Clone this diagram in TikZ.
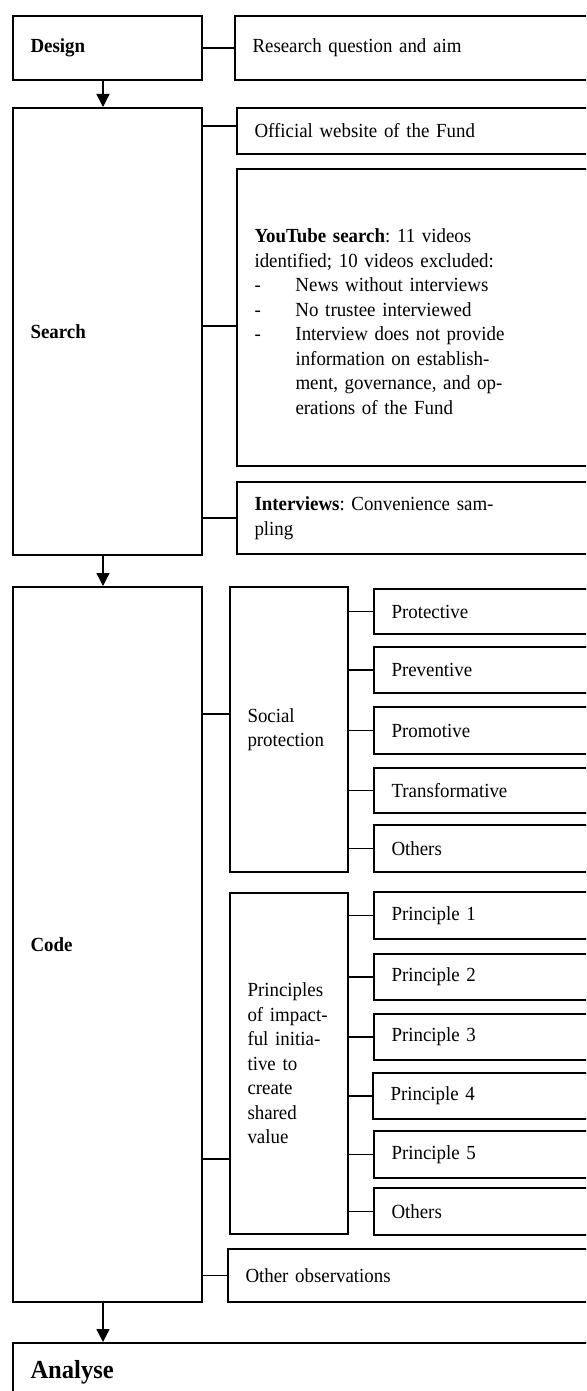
\documentclass[tikz,border=0pt]{standalone}
\usepackage{amsmath,amssymb}
\usepackage{xcolor}
\usepackage{fontspec}
\setmainfont{Liberation Serif}[FakeStretch=0.945,WordSpace=0.88]
\usepackage{tikz}
\usetikzlibrary{arrows.meta}
\frenchspacing

\newcommand{\nodefont}{\fontsize{10pt}{12.25pt}\selectfont}
\newcommand{\dashitem}{\makebox[20.5pt][l]{-}}
\newcommand{\dashgap}{\hspace*{20.5pt}}

\tikzset{
    stage/.style={draw, line width=1pt, anchor=north west, align=left,
        inner xsep=8.75pt, inner ysep=0pt, text width=77pt, font=\nodefont\bfseries},
    item/.style={draw, line width=1pt, anchor=north west, align=left,
        inner xsep=8.75pt, inner ysep=0pt, font=\nodefont},
    link/.style={line width=0.8pt},
    flow/.style={line width=0.7pt, -{Triangle[length=6.5pt,width=6.5pt]}}
}

\begin{document}
\begin{tikzpicture}[x=0.5pt,y=-0.5pt]
    \useasboundingbox (0,0) rectangle (586,1391);
    \clip (0,0) rectangle (586,1391);

    \node[stage, minimum height=32pt] (design) at (12,15) {Design};
    \node[item, text width=175.5pt, minimum height=32pt] (aim) at (234,15) {Research question and aim};

    \node[stage, minimum height=223.5pt] (search) at (12,107) {Search};
    \node[item, text width=174.5pt, minimum height=23pt] (web) at (236,107) {Official website of the Fund};
    \node[item, text width=174.5pt, minimum height=148.5pt] (yt) at (236,168) {\rule{0pt}{11pt}\textbf{YouTube search}: 11 videos\\
        identified; 10 videos excluded:\\
        \dashitem News without interviews\\
        \dashitem No trustee interviewed\\
        \dashitem Interview does not provide\\
        \dashgap information on establish-\\
        \dashgap ment, governance, and op-\\
        \dashgap erations of the Fund};
    \node[item, text width=174.5pt, minimum height=36pt] (intv) at (236,481) {\textbf{Interviews}: Convenience sam-\\pling};

    \node[stage, minimum height=357.5pt] (code) at (12,586) {Code};
    \node[item, text width=41.5pt, minimum height=142.5pt] (social) at (229,586) {Social\\protection};
    \node[item, text width=106pt, minimum height=22.5pt] (prot) at (373,588) {Protective};
    \node[item, text width=106pt, minimum height=23pt] (prev) at (373,646) {Preventive};
    \node[item, text width=106pt, minimum height=23.5pt] (promo) at (373,706) {Promotive};
    \node[item, text width=106pt, minimum height=22.5pt] (transf) at (373,767) {Transformative};
    \node[item, text width=106pt, minimum height=23.5pt] (othsp) at (373,824) {Others};

    \node[item, text width=41.5pt, minimum height=170.5pt] (princ) at (229,892) {Principles\\of impact-\\ful initia-\\tive to\\create\\shared\\value};
    \node[item, text width=106pt, minimum height=23.5pt] (pa) at (373,891) {Principle 1};
    \node[item, text width=106pt, minimum height=23pt] (pb) at (373,953) {Principle 2};
    \node[item, text width=106pt, minimum height=23pt] (pc) at (373,1013) {Principle 3};
    \node[item, text width=106pt, minimum height=23pt] (pd) at (372,1072) {Principle 4};
    \node[item, text width=106pt, minimum height=23.5pt] (pe) at (373,1130) {Principle 5};
    \node[item, text width=106pt, minimum height=23.5pt] (othpr) at (373,1187) {Others};

    \node[item, text width=179pt, minimum height=26.5pt] (obs) at (227,1248) {Other observations};

    \node[item, text width=286.5pt, minimum height=29.5pt, font=\fontsize{13pt}{15pt}\selectfont\bfseries] (analyse) at (12,1342) {Analyse};

    \coordinate (spine) at (103,0);
    \draw[flow] (design.south -| spine) -- (search.north -| spine);
    \draw[flow] (search.south -| spine) -- (code.north -| spine);
    \draw[flow] (code.south -| spine) -- (analyse.north west -| spine);

    \draw[link] (design.east) -- (aim.west |- design.east);
    \draw[link] (search.east |- 0,126) -- (web.west |- 0,126);
    \draw[link] (search.east |- 0,326) -- (yt.west |- 0,326);
    \draw[link] (search.east |- intv.west) -- (intv.west);

    \draw[link] (code.east |- 0,714) -- (social.west |- 0,714);
    \draw[link] (code.east |- 0,1159) -- (princ.west |- 0,1159);
    \draw[link] (code.east |- obs.west) -- (obs.west);

    \draw[link] (social.east |- prot.west) -- (prot.west);
    \draw[link] (social.east |- prev.west) -- (prev.west);
    \draw[link] (social.east |- promo.west) -- (promo.west);
    \draw[link] (social.east |- transf.west) -- (transf.west);
    \draw[link] (social.east |- othsp.west) -- (othsp.west);

    \draw[link] (princ.east |- pa.west) -- (pa.west);
    \draw[link] (princ.east |- pb.west) -- (pb.west);
    \draw[link] (princ.east |- pc.west) -- (pc.west);
    \draw[link] (princ.east |- pd.west) -- (pd.west);
    \draw[link] (princ.east |- pe.west) -- (pe.west);
    \draw[link] (princ.east |- othpr.west) -- (othpr.west);
\end{tikzpicture}
\end{document}
